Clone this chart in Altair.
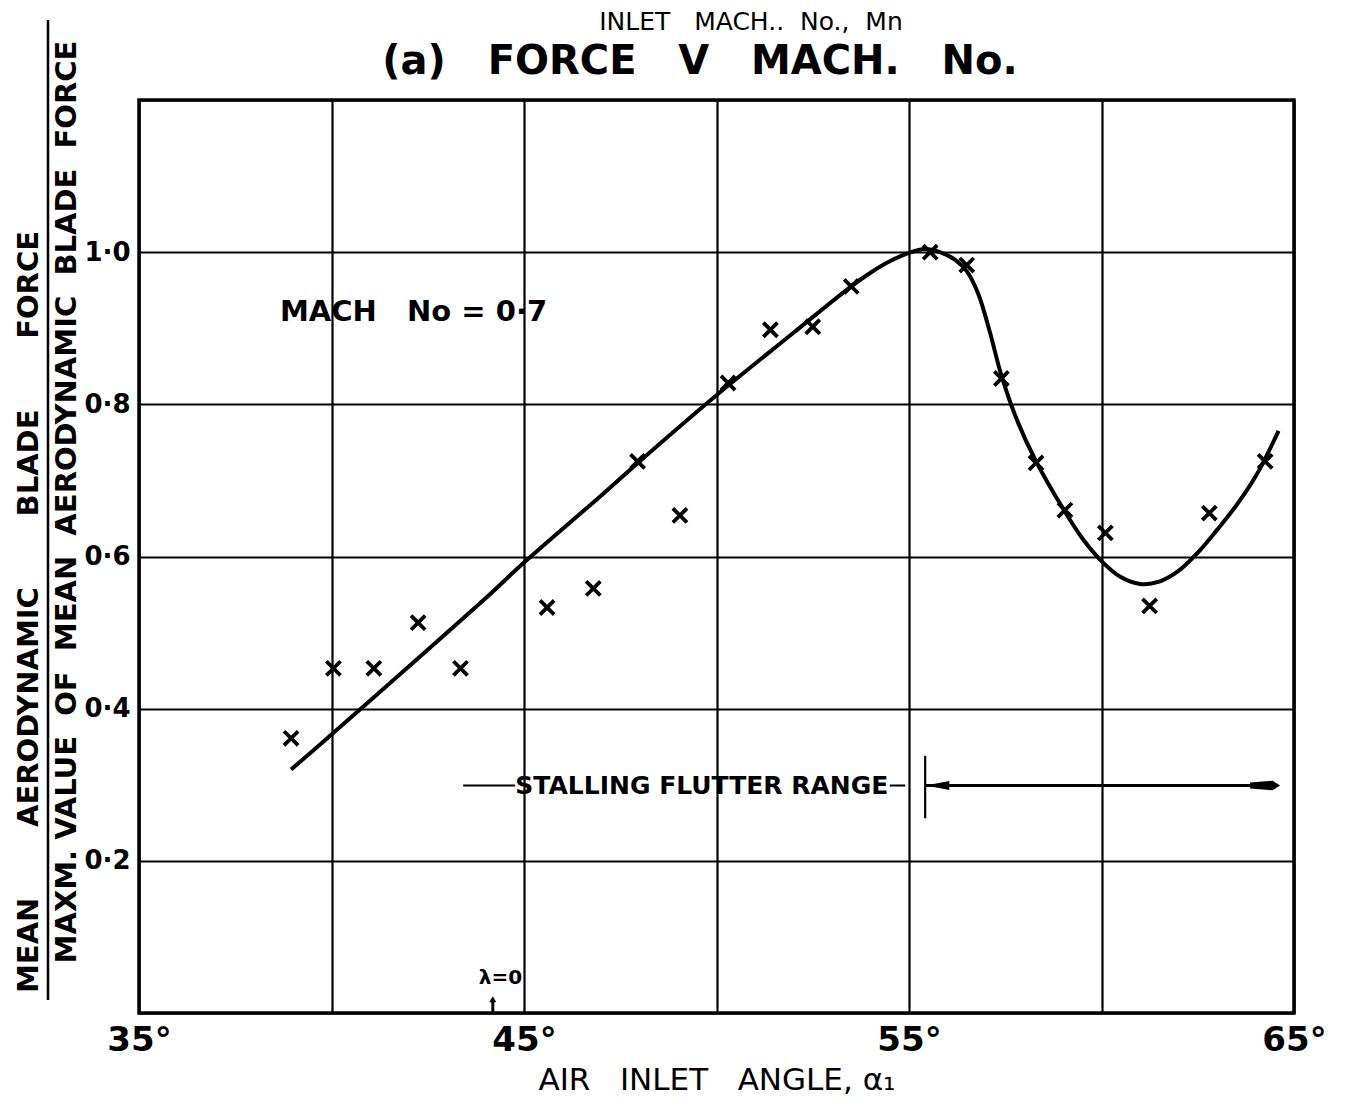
import altair as alt
import pandas as pd

FONT = "DejaVu Sans"
NB = "\u00a0"

# ---- measured crosses ----
pt_angle = [38.95, 40.05, 41.1, 42.25, 43.35, 45.6, 46.8, 47.95, 49.05, 50.3, 51.4,
            52.5, 53.5, 55.55, 56.5, 57.4, 58.3, 59.05, 60.1, 61.25, 62.8, 64.25]
pt_force = [0.361, 0.453, 0.453, 0.513, 0.453, 0.533, 0.558, 0.725, 0.654, 0.828, 0.898,
            0.902, 0.955, 1.0, 0.983, 0.834, 0.723, 0.661, 0.631, 0.535, 0.657, 0.725]

# ---- faired curve ----
curve_angle = [38.95, 40.0, 42.0, 44.0, 45.0, 47.0, 48.0, 50.0, 52.0, 53.5, 54.0, 54.5,
               55.0, 55.4, 55.8, 56.2, 56.5, 56.8, 57.1, 57.4, 57.8, 58.3, 59.0, 59.5,
               60.0, 60.5, 61.0, 61.5, 62.0, 62.5, 63.0, 63.5, 64.0, 64.6]
curve_force = [0.32, 0.366, 0.455, 0.545, 0.592, 0.68, 0.725, 0.812, 0.894, 0.955, 0.973,
               0.988, 0.999, 1.004, 1.0, 0.99, 0.975, 0.945, 0.895, 0.838, 0.78, 0.725,
               0.663, 0.624, 0.594, 0.573, 0.564, 0.567, 0.581, 0.605, 0.635, 0.667,
               0.705, 0.765]

# ---- axes ----
x_grid = [35, 40, 45, 50, 55, 60, 65]
x_tick_labels = ["35°", "", "45°", "", "55°", "", "65°"]
y_grid = [0.0, 0.2, 0.4, 0.6, 0.8, 1.0, 1.2]
y_tick_labels = ["", "0·2", "0·4", "0·6", "0·8", "1·0", ""]

# ---- annotation values ----
mach_text = f"MACH{NB*3}No{NB}={NB}0·7"
mach_pos = [38.66, 0.922]
stall_text = "STALLING FLUTTER RANGE"
stall_y = 0.299
stall_text_x = 49.62
stall_lead = [43.42, 44.77]
stall_dash = [54.5, 54.9]
stall_bar_x = 55.42
stall_bar_y = [0.256, 0.338]
stall_arrow = [55.42, 64.45]
lambda_x = 44.19
lambda_text = "λ=0"

title_main = f"(a){NB*3}FORCE{NB*3}V{NB*3}MACH.{NB*3}No."
title_top = f"INLET{NB*3}MACH..{NB*2}No.,{NB*2}Mn"
ylab1 = f"MEAN{NB*7}AERODYNAMIC{NB*7}BLADE{NB*7}FORCE"
ylab2 = f"MAXM.{NB}VALUE{NB*2}OF{NB*2}MEAN{NB*2}AERODYNAMIC{NB*2}BLADE{NB*2}FORCE"
xtitle = f"AIR{NB*3}INLET{NB*3}ANGLE,{NB}α₁"


def cond_expr(vals, labels):
    parts = [f"datum.value == {v} ? '{l}'" for v, l in zip(vals, labels)]
    return " : ".join(parts) + " : ''"


W, H = 1155, 913
xs = alt.Scale(domain=[35, 65], nice=False, zero=False)
ys = alt.Scale(domain=[0, 1.2], nice=False, zero=False)

xaxis = alt.Axis(values=x_grid, labelExpr=cond_expr(x_grid, x_tick_labels), grid=True,
                 gridColor="black", gridWidth=2.2, gridOpacity=1, domain=False, ticks=False,
                 labelFont=FONT, labelFontSize=34, labelFontWeight="bold", labelColor="black",
                 labelPadding=10, labelFlush=False, labelOverlap=False, labelBound=False,
                 title=xtitle, titleFont=FONT, titleFontSize=31, titleFontWeight="normal",
                 titleColor="black", titlePadding=8)
yaxis = alt.Axis(values=y_grid, labelExpr=cond_expr(y_grid, y_tick_labels), grid=True,
                 gridColor="black", gridWidth=2.2, gridOpacity=1, domain=False, ticks=False,
                 labelFont=FONT, labelFontSize=26, labelFontWeight="bold", labelColor="black",
                 labelPadding=9, labelFlush=False, labelOverlap=False, labelBound=False,
                 title=None)

pts = pd.DataFrame({"angle": pt_angle, "force": pt_force})
crv = pd.DataFrame({"angle": curve_angle, "force": curve_force})

base_x = alt.X("angle:Q", scale=xs, axis=xaxis)
base_y = alt.Y("force:Q", scale=ys, axis=yaxis)

curve = alt.Chart(crv).mark_line(color="black", strokeWidth=4, interpolate="catmull-rom").encode(
    x=base_x, y=base_y)

cross = alt.Chart(pts).mark_point(shape="M-1,-1L1,1M1,-1L-1,1", filled=False, size=200,
                                  color="black", strokeWidth=3.8, opacity=1).encode(
    x=alt.X("angle:Q", scale=xs), y=alt.Y("force:Q", scale=ys))

mach = alt.Chart(pd.DataFrame({"angle": [mach_pos[0]], "force": [mach_pos[1]], "t": [mach_text]})).mark_text(
    font=FONT, fontSize=29, fontWeight="bold", align="left", baseline="middle", color="black").encode(
    x=alt.X("angle:Q", scale=xs), y=alt.Y("force:Q", scale=ys), text="t:N")

stall_txt = alt.Chart(pd.DataFrame({"angle": [stall_text_x], "force": [stall_y], "t": [stall_text]})).mark_text(
    font=FONT, fontSize=25, fontWeight="bold", align="center", baseline="middle", color="black").encode(
    x=alt.X("angle:Q", scale=xs), y=alt.Y("force:Q", scale=ys), text="t:N")

hsegs = pd.DataFrame({"a": [stall_lead[0], stall_dash[0], stall_arrow[0]],
                      "b": [stall_lead[1], stall_dash[1], stall_arrow[1]],
                      "force": [stall_y] * 3, "w": [2.0, 2.0, 3.2]})
hrules = alt.Chart(hsegs).mark_rule(color="black").encode(
    x=alt.X("a:Q", scale=xs), x2="b:Q", y=alt.Y("force:Q", scale=ys),
    strokeWidth=alt.StrokeWidth("w:Q", scale=None, legend=None))

vbar = alt.Chart(pd.DataFrame({"angle": [stall_bar_x], "y1": [stall_bar_y[0]], "y2": [stall_bar_y[1]]})).mark_rule(
    color="black", strokeWidth=2.2).encode(
    x=alt.X("angle:Q", scale=xs), y=alt.Y("y1:Q", scale=ys), y2="y2:Q")

head = alt.Chart(pd.DataFrame({"angle": [stall_bar_x + 0.32], "force": [stall_y]})).mark_point(
    shape="M-1,0L1,-0.38L1,0.38Z", filled=True, size=560, color="black", opacity=1).encode(
    x=alt.X("angle:Q", scale=xs), y=alt.Y("force:Q", scale=ys))

tail = alt.Chart(pd.DataFrame({"angle": [stall_arrow[1] - 0.2], "force": [stall_y]})).mark_point(
    shape="M-1,-0.2L0.5,-0.32L1,0L0.5,0.32L-1,0.2Z", filled=True, size=900, color="black", opacity=1).encode(
    x=alt.X("angle:Q", scale=xs), y=alt.Y("force:Q", scale=ys))

lam_txt = alt.Chart(pd.DataFrame({"angle": [lambda_x + 0.2], "force": [0.046], "t": [lambda_text]})).mark_text(
    font=FONT, fontSize=20, fontWeight="bold", align="center", baseline="middle", color="black").encode(
    x=alt.X("angle:Q", scale=xs), y=alt.Y("force:Q", scale=ys), text="t:N")
lam_stem = alt.Chart(pd.DataFrame({"angle": [lambda_x], "y1": [0.0], "y2": [0.016]})).mark_rule(
    color="black", strokeWidth=3).encode(
    x=alt.X("angle:Q", scale=xs), y=alt.Y("y1:Q", scale=ys), y2="y2:Q")
lam_head = alt.Chart(pd.DataFrame({"angle": [lambda_x], "force": [0.018]})).mark_point(
    shape="triangle-up", filled=True, size=50, color="black", opacity=1).encode(
    x=alt.X("angle:Q", scale=xs), y=alt.Y("force:Q", scale=ys))

# texts placed around the frame (pixel positions relative to plot area)
one = pd.DataFrame({"k": [0]})
t_main = alt.Chart(one).mark_text(text=title_main, font=FONT, fontSize=40, fontWeight="bold",
                                  align="center", baseline="middle", color="black").encode(
    x=alt.value(561), y=alt.value(-38))
t_top = alt.Chart(one).mark_text(text=title_top, font=FONT, fontSize=25, fontWeight="normal",
                                 align="center", baseline="alphabetic", color="black").encode(
    x=alt.value(612), y=alt.value(-70))
y1 = alt.Chart(one).mark_text(text=ylab1, font=FONT, fontSize=29, fontWeight="bold", angle=270,
                              align="center", baseline="middle", color="black").encode(
    x=alt.value(-110), y=alt.value(512))
y2 = alt.Chart(one).mark_text(text=ylab2, font=FONT, fontSize=29, fontWeight="bold", angle=270,
                              align="center", baseline="middle", color="black").encode(
    x=alt.value(-72), y=alt.value(402))
fbar = alt.Chart(one).mark_rule(color="black", strokeWidth=2.5).encode(
    x=alt.value(-91), y=alt.value(-80), y2=alt.value(900))

chart = alt.layer(curve, cross, mach, stall_txt, hrules, vbar, head, tail, lam_txt, lam_stem,
                  lam_head, t_main, t_top, y1, y2, fbar).properties(
    width=W, height=H,
    autosize=alt.AutoSizeParams(type="none"),
    padding={"left": 131, "top": 92, "right": 45, "bottom": 88},
    background="white",
).configure_view(stroke="black", strokeWidth=3.5)

chart.save("out.html", embed_options={"renderer": "svg", "actions": False})
